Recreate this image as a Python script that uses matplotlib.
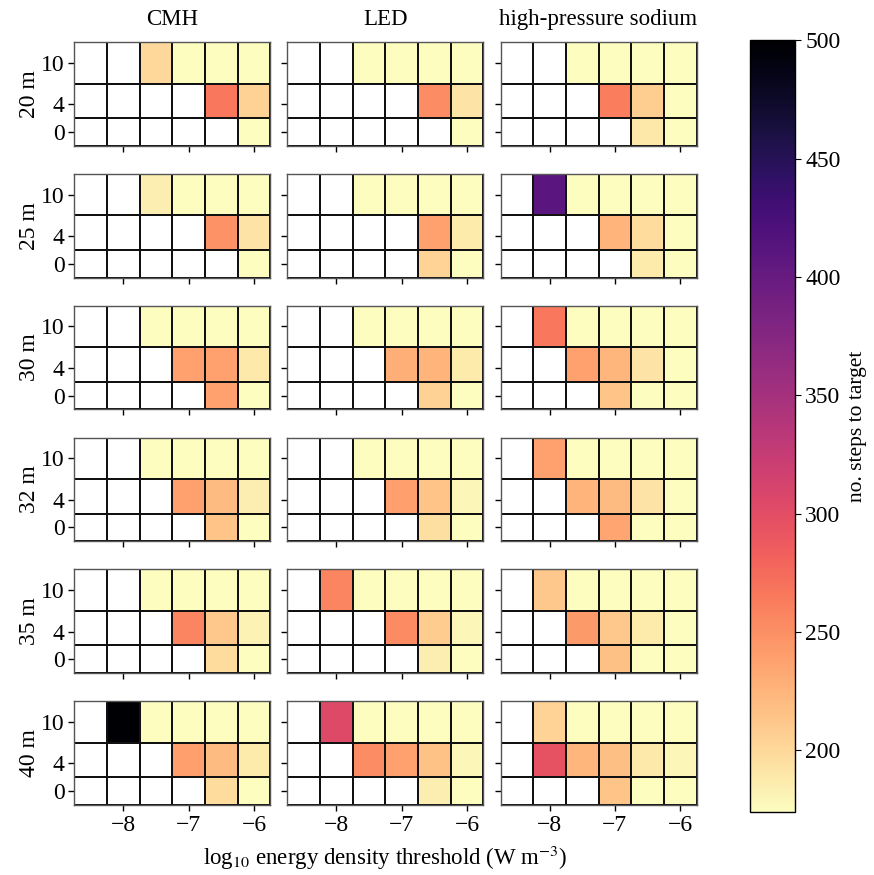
import numpy as np
import matplotlib
matplotlib.use("Agg")
import matplotlib.pyplot as plt
from matplotlib.colors import Normalize

plt.rcParams['font.family'] = ['Liberation Serif', 'DejaVu Serif']
plt.rcParams['mathtext.fontset'] = 'stix'
plt.rcParams['axes.unicode_minus'] = True

N = np.nan

# donnees : seuils (log10), hauteurs, lampes
thresholds = [-8.5, -8.0, -7.5, -7.0, -6.5, -6.0]
heights_y = [10, 4, 0]          # lignes de haut en bas
lamps = ['CMH', 'LED', 'high-pressure sodium']
altitudes = ['20 m', '25 m', '30 m', '32 m', '35 m', '40 m']

# nb de pas jusqu'a la cible, lignes y=10, 4, 0
cmh_20 = [[N, N, 200, 175, 175, 175],
          [N, N, N, N, 266, 205],
          [N, N, N, N, N, 175]]
led_20 = [[N, N, 175, 175, 175, 175],
          [N, N, N, N, 252, 192],
          [N, N, N, N, N, 175]]
hps_20 = [[N, N, 175, 175, 175, 175],
          [N, N, N, 262, 208, 175],
          [N, N, N, N, 190, 175]]

cmh_25 = [[N, N, 185, 175, 175, 175],
          [N, N, N, N, 248, 192],
          [N, N, N, N, N, 175]]
led_25 = [[N, N, 175, 175, 175, 175],
          [N, N, N, N, 238, 187],
          [N, N, N, N, 204, 175]]
hps_25 = [[N, 410, 175, 175, 175, 175],
          [N, N, N, 225, 197, 175],
          [N, N, N, N, 187, 175]]

cmh_30 = [[N, N, 175, 175, 175, 175],
          [N, N, N, 238, 238, 189],
          [N, N, N, N, 238, 175]]
led_30 = [[N, N, 175, 175, 175, 175],
          [N, N, N, 230, 226, 187],
          [N, N, N, N, 205, 175]]
hps_30 = [[N, 266, 175, 175, 175, 175],
          [N, N, 238, 224, 192, 175],
          [N, N, N, 214, 175, 175]]

cmh_32 = [[N, N, 175, 175, 175, 175],
          [N, N, N, 238, 220, 185],
          [N, N, N, N, 214, 175]]
led_32 = [[N, N, 175, 175, 175, 175],
          [N, N, N, 240, 214, 179],
          [N, N, N, N, 195, 175]]
hps_32 = [[N, 238, 175, 175, 175, 175],
          [N, N, 226, 220, 192, 175],
          [N, N, N, 236, 175, 175]]

cmh_35 = [[N, N, 175, 175, 175, 175],
          [N, N, N, 258, 211, 182],
          [N, N, N, N, 197, 175]]
led_35 = [[N, 258, 175, 175, 175, 175],
          [N, N, N, 254, 209, 179],
          [N, N, N, N, 185, 175]]
hps_35 = [[N, 211, 175, 175, 175, 175],
          [N, N, 243, 211, 187, 175],
          [N, N, N, 217, 175, 175]]

cmh_40 = [[N, 500, 175, 175, 175, 175],
          [N, N, N, 240, 221, 187],
          [N, N, N, N, 197, 175]]
led_40 = [[N, 305, 175, 175, 175, 175],
          [N, N, 252, 238, 216, 179],
          [N, N, N, N, 185, 175]]
hps_40 = [[N, 204, 175, 175, 175, 175],
          [N, 295, 224, 218, 189, 179],
          [N, N, N, 214, 175, 175]]

grilles = [[cmh_20, led_20, hps_20],
           [cmh_25, led_25, hps_25],
           [cmh_30, led_30, hps_30],
           [cmh_32, led_32, hps_32],
           [cmh_35, led_35, hps_35],
           [cmh_40, led_40, hps_40]]

vmin, vmax = 174, 500

cmap = plt.get_cmap('magma_r').copy()
cmap.set_bad('white')
norm = Normalize(vmin=vmin, vmax=vmax)

fig, axes = plt.subplots(6, 3, figsize=(8.74, 8.75), dpi=100, sharex=True, sharey=True)
fig.subplots_adjust(left=0.085, right=0.797, top=0.952, bottom=0.080,
                    wspace=0.087, hspace=0.27)

for i, alt in enumerate(altitudes):
    for j, lamp in enumerate(lamps):
        ax = axes[i, j]
        z = np.ma.masked_invalid(np.array(grilles[i][j], dtype=float))
        mesh = ax.pcolormesh(thresholds, heights_y, z, cmap=cmap, norm=norm,
                             shading='nearest', edgecolors='#111111', linewidth=1.25)
        ax.set_xticks([-8, -7, -6])
        ax.set_yticks([0, 4, 10])
        ax.tick_params(labelsize=17, length=4, width=1, pad=3)
        for s in ax.spines.values():
            s.set_linewidth(1.0)
            s.set_color('#555555')
        if i == 0:
            ax.set_title(lamp, fontsize=16.5, pad=12)
        if j == 0:
            ax.set_ylabel(alt, fontsize=17, labelpad=1)

# barre de couleur
cax = fig.add_axes([0.858, 0.072, 0.0515, 0.882])
cb = fig.colorbar(mesh, cax=cax)
cb.set_ticks([200, 250, 300, 350, 400, 450, 500])
cb.ax.tick_params(labelsize=17, length=4)
cb.set_label('no. steps to target', fontsize=15.5, labelpad=5)
cb.outline.set_linewidth(1.0)

fig.text(0.441, 0.019, r'log$_{10}$ energy density threshold (W m$^{-3}$)',
         ha='center', va='center', fontsize=16.5)

plt.savefig('out.png', dpi=100)
